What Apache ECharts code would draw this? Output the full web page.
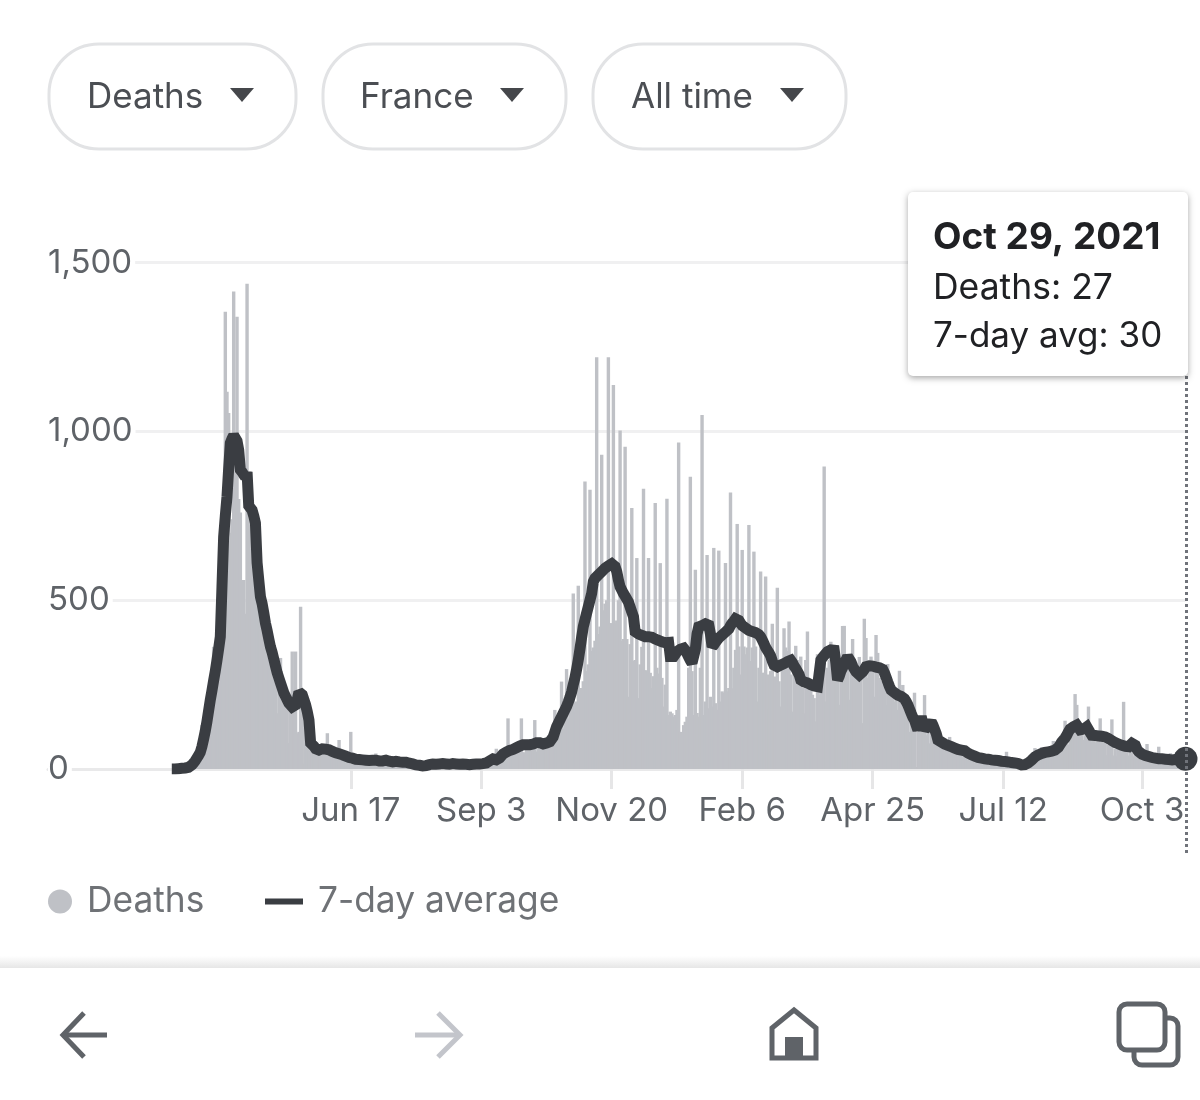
<!DOCTYPE html>
<html>
<head>
<meta charset="utf-8">
<title>Deaths, France, all time</title>
<script src="https://cdn.jsdelivr.net/npm/echarts@6/dist/echarts.min.js"></script>
<style>
  html, body { margin: 0; padding: 0; background: #fff; }
  #chart { width: 1200px; height: 1100px; }
</style>
</head>
<body>
<div id="chart"></div>
<script>
// Daily reported deaths, from 2020-03-02 to 2021-10-29.
const deaths = [
  0,0,1,0,2,0,1,0,2,3,
  4,3,5,9,7,14,12,18,130,40,
  78,112,140,180,230,362,250,290,330,385,
  470,560,1355,1118,1055,700,740,1415,880,1340,
  800,760,470,560,460,1438,880,760,760,720,
  700,640,580,530,470,440,420,400,380,350,
  330,310,290,165,240,329,240,220,205,190,
  77,180,348,170,348,106,110,481,190,15,
  150,130,120,110,80,70,62,55,50,58,
  55,52,50,106,60,45,50,45,44,40,
  86,38,36,42,34,30,36,110,28,26,
  30,26,25,24,40,22,24,26,20,22,
  24,28,46,22,20,18,22,30,24,20,
  18,22,18,26,30,22,18,20,16,14,
  20,18,12,10,12,8,10,6,8,7,
  8,9,8,14,10,16,8,12,26,8,
  10,14,30,10,12,16,12,8,18,12,
  12,10,24,10,16,12,20,10,8,14,
  12,14,18,12,16,22,14,16,30,26,
  18,26,22,30,60,24,32,28,48,30,
  36,150,40,42,35,52,48,72,60,150,
  50,48,60,75,68,64,58,145,52,60,
  66,70,62,60,66,72,85,98,105,175,
  110,120,130,259,120,145,296,150,170,185,
  520,170,200,543,225,240,260,852,290,310,
  827,350,360,380,1220,400,422,931,470,490,
  500,1220,432,432,1138,432,440,500,1003,380,
  385,955,385,214,370,773,320,323,625,210,
  310,362,830,293,290,625,285,240,275,788,
  300,283,610,270,185,250,801,160,170,165,
  155,160,175,967,110,0,130,140,155,300,
  866,290,160,590,166,155,300,1049,160,200,
  634,180,214,185,655,195,175,647,200,230,
  225,610,230,240,819,239,300,353,726,363,
  280,649,363,340,360,723,320,360,644,363,
  200,300,585,285,285,570,280,180,290,430,
  240,274,537,260,185,300,417,360,350,437,
  280,170,290,365,323,249,333,240,165,323,
  407,230,234,220,210,141,340,220,230,300,
  896,200,300,323,377,350,264,264,280,190,
  290,424,424,290,300,205,330,385,323,270,
  280,332,290,136,445,388,270,290,333,300,
  214,397,344,270,260,250,240,190,311,220,
  210,215,200,205,175,291,200,249,180,170,
  170,110,160,140,226,6,110,120,130,110,
  219,100,110,76,120,90,100,110,70,80,
  75,70,65,55,70,95,60,50,48,60,
  70,50,45,55,60,40,42,35,32,40,
  35,30,28,26,32,24,28,22,26,24,
  28,20,22,26,18,22,16,18,20,51,
  18,14,20,16,14,18,12,10,14,12,
  18,16,22,24,26,30,62,35,30,42,
  65,38,42,36,40,48,50,83,44,53,
  55,58,60,62,143,75,72,90,100,110,
  222,190,100,95,110,86,100,90,185,120,
  81,85,78,82,80,150,80,78,76,41,
  72,70,147,40,60,38,60,62,55,199,
  60,50,40,55,48,38,52,45,30,44,
  40,36,38,74,30,28,34,32,26,30,
  66,28,24,30,26,22,28,47,20,24,
  26,22,24,20,28,24,27
];

// Seven-day rolling average over the same days.
const sevenDayAvg = [
  0,0,0,1,1,1,2,2,3,4,
  5,8,12,18,24,32,40,49,66,88,
  112,140,172,204,232,262,290,322,356,392,
  540,688,750,807,890,966,978,988,985,972,
  945,886,880,872,865,880,780,775,767,750,
  729,611,560,510,490,462,432,410,385,362,
  345,325,305,285,270,255,240,225,215,205,
  195,190,184,180,190,205,228,225,220,205,
  190,170,145,77,72,67,60,56,56,58,
  60,58,59,59,57,55,52,50,48,47,
  45,44,42,40,38,36,34,33,32,30,
  29,28,28,27,27,26,26,25,25,24,
  26,27,26,25,24,23,24,25,26,24,
  23,22,21,22,23,22,21,20,20,21,
  20,19,17,16,15,13,12,12,11,10,
  9,9,10,12,13,14,15,14,14,15,
  15,16,16,15,15,14,14,15,16,15,
  15,14,14,15,15,14,14,13,13,14,
  14,14,15,15,15,16,16,17,18,20,
  24,28,30,28,27,29,33,38,44,48,
  50,52,55,56,58,60,63,66,68,70,
  72,73,72,71,72,73,74,76,78,80,
  78,76,74,75,77,79,81,85,95,110,
  125,135,145,155,165,175,185,198,212,228,
  250,270,295,323,355,390,422,442,462,481,
  500,520,555,565,570,575,580,585,590,595,
  598,602,605,608,604,600,585,560,540,530,
  520,512,507,495,480,465,451,407,403,400,
  398,396,394,392,393,392,392,390,388,385,
  383,381,379,377,375,374,373,375,333,330,
  333,340,348,352,355,358,358,352,342,332,
  322,314,314,355,400,421,424,425,428,430,
  427,426,400,362,368,375,382,388,393,397,
  402,406,410,415,425,432,438,445,447,440,
  432,425,421,418,414,411,409,407,405,404,
  403,398,392,382,372,360,352,344,335,320,
  308,305,303,306,308,310,312,315,318,322,
  322,315,305,298,293,280,264,260,258,256,
  255,254,250,248,246,245,244,243,323,330,
  335,342,348,352,353,354,352,314,264,275,
  290,300,312,322,333,330,318,305,296,288,
  283,279,282,288,295,303,305,306,305,305,
  304,302,301,300,299,295,285,272,258,245,
  234,230,226,222,219,216,215,214,208,200,
  190,178,165,153,145,130,116,135,155,135,
  116,122,128,134,140,130,118,105,86,82,
  80,76,74,72,70,68,66,64,62,60,
  58,57,56,55,54,50,47,44,42,40,
  38,36,34,33,32,31,30,29,29,28,
  27,27,26,26,25,24,23,22,22,21,
  21,20,19,18,18,17,16,14,12,12,
  13,15,18,22,26,31,36,40,42,44,
  46,47,49,50,51,52,53,55,56,58,
  64,72,80,86,92,100,110,118,122,125,
  128,130,126,116,116,118,122,125,120,108,
  100,100,99,99,98,98,97,96,95,92,
  90,87,84,81,78,76,74,72,70,68,
  67,66,66,70,76,81,70,58,52,47,
  44,42,40,38,37,35,34,33,32,31,
  30,30,30,29,29,28,28,27,27,28,
  28,29,29,30,30,30,30
];

const firstDay = '2020-03-02';
const leadingBlankDays = 74;         // empty days that leave room for the y labels
const tickDates = ['2020-06-17', '2020-09-03', '2020-11-20', '2021-02-06', '2021-04-25', '2021-07-12', '2021-10-03'];
const tickLabels = ['Jun 17', 'Sep 3', 'Nov 20', 'Feb 6', 'Apr 25', 'Jul 12', 'Oct 3'];
const yTicks = [0, 500, 1000, 1500];
const filterLabels = ['Deaths', 'France', 'All time'];
const tipTitle = 'Oct 29, 2021';

const FONT = 'Inter';
const DAY_MS = 86400000;
const start = Date.parse(firstDay + 'T00:00:00Z');
const isoDay = n => new Date(start + n * DAY_MS).toISOString().slice(0, 10);

const categories = [];
for (let i = -leadingBlankDays; i < deaths.length; i++) categories.push(isoDay(i));
const pad = new Array(leadingBlankDays).fill(null);
const tickByDate = {};
tickDates.forEach((d, i) => { tickByDate[d] = tickLabels[i]; });

const BAR = '#bfc1c6';
const LINE = '#3a3d42';
const ICON = '#5f6368';

const lastDate = categories[categories.length - 1];
const lastDeaths = deaths[deaths.length - 1];
const lastAvg = sevenDayAvg[sevenDayAvg.length - 1];

const chart = echarts.init(document.getElementById('chart'), null, { renderer: 'canvas' });

// Rounded filter buttons above the plot, with their drop-down carets.
const pillBoxes = [[49, 247, 87, 230], [323, 243, 360, 500], [593, 253, 631, 780]];
const chrome = [];
pillBoxes.forEach((b, i) => {
  chrome.push({ type: 'rect', z: 50, shape: { x: b[0], y: 44, width: b[1], height: 105, r: 50 },
    style: { fill: '#fff', stroke: '#e2e3e5', lineWidth: 3 } });
  chrome.push({ type: 'text', z: 51, x: b[2], y: 97,
    style: { text: filterLabels[i], font: '35px ' + FONT, fill: '#4b4e53', textVerticalAlign: 'middle' } });
  chrome.push({ type: 'polygon', z: 51, shape: { points: [[b[3], 88], [b[3] + 24, 88], [b[3] + 12, 102]] },
    style: { fill: '#45474b' } });
});

// Tooltip card for the last day.
chrome.push({ type: 'rect', z: 90, shape: { x: 908, y: 192, width: 280, height: 184, r: 5 },
  style: { fill: '#fff', shadowBlur: 6, shadowOffsetY: 2, shadowColor: 'rgba(0,0,0,0.35)' } });
[[tipTitle, 238, 'bold 37px '], ['Deaths: ' + lastDeaths, 288, '35.5px '], ['7-day avg: ' + lastAvg, 336, '35px ']]
  .forEach(t => chrome.push({ type: 'text', z: 91, x: 933, y: t[1],
    style: { text: t[0], font: t[2] + FONT, fill: '#202124', textVerticalAlign: 'middle' } }));

// Bottom navigation bar: shadow edge, back, forward, home and tabs icons.
chrome.push({ type: 'rect', z: 50, shape: { x: 0, y: 956, width: 1200, height: 12 },
  style: { fill: new echarts.graphic.LinearGradient(0, 0, 0, 1, [{ offset: 0, color: '#ffffff' }, { offset: 1, color: '#e6e6e6' }]) } });
const stroke = (color, w) => ({ fill: 'none', stroke: color, lineWidth: w });
chrome.push({ type: 'polyline', z: 51, shape: { points: [[107, 1035], [63, 1035]] }, style: stroke(ICON, 5) });
chrome.push({ type: 'polyline', z: 51, shape: { points: [[84, 1013], [63, 1035], [84, 1057]] }, style: stroke(ICON, 5) });
chrome.push({ type: 'polyline', z: 51, shape: { points: [[415, 1035], [460, 1035]] }, style: stroke('#c3c5cb', 5) });
chrome.push({ type: 'polyline', z: 51, shape: { points: [[438, 1013], [460, 1035], [438, 1057]] }, style: stroke('#c3c5cb', 5) });
chrome.push({ type: 'polygon', z: 51, shape: { points: [[794, 1010], [816, 1028], [816, 1058], [772, 1058], [772, 1028]] }, style: stroke(ICON, 5) });
chrome.push({ type: 'rect', z: 51, shape: { x: 785, y: 1037, width: 18, height: 23 }, style: { fill: ICON } });
chrome.push({ type: 'rect', z: 51, shape: { x: 1134, y: 1018, width: 44, height: 47, r: 8 }, style: stroke(ICON, 5) });
chrome.push({ type: 'rect', z: 52, shape: { x: 1119, y: 1004, width: 46, height: 46, r: 8 },
  style: { fill: '#fff', stroke: ICON, lineWidth: 5 } });

chart.setOption({
  animation: false,
  backgroundColor: '#fff',
  textStyle: { fontFamily: FONT },
  grid: { left: 48, right: 14.5, top: 262.7, bottom: 331, containLabel: false },
  legend: [
    { data: ['Deaths'], left: 48, top: 884, selectedMode: false, icon: 'circle',
      itemWidth: 24, itemHeight: 24, padding: 0,
      textStyle: { fontFamily: FONT, fontSize: 35.3, color: '#6f7276', padding: [2, 0, 0, 10] } },
    { data: ['7-day average'], left: 265, top: 884, selectedMode: false, icon: 'rect',
      itemWidth: 38, itemHeight: 6, padding: 0,
      textStyle: { fontFamily: FONT, fontSize: 35.3, color: '#6f7276', padding: [2, 0, 0, 10] } }
  ],
  xAxis: {
    type: 'category',
    data: categories,
    boundaryGap: false,
    axisLine: { show: true, lineStyle: { color: '#e9e9ea', width: 3 } },
    axisTick: {
      show: true, length: 20, lineStyle: { color: '#e6e6e7', width: 3 },
      interval: (i, v) => v in tickByDate
    },
    axisLabel: {
      show: true, margin: 26, fontSize: 33, color: '#5f6368', fontFamily: FONT,
      interval: (i, v) => v in tickByDate,
      formatter: v => tickByDate[v] || ''
    },
    splitLine: { show: false }
  },
  yAxis: {
    type: 'value',
    min: yTicks[0],
    max: yTicks[yTicks.length - 1],
    interval: yTicks[1] - yTicks[0],
    axisLine: { show: false },
    axisTick: { show: false },
    splitLine: { lineStyle: { color: '#f0f0f1', width: 3 } },
    axisLabel: {
      inside: true, margin: 0, fontSize: 33, color: '#5f6368', fontFamily: FONT,
      backgroundColor: '#fff', padding: [9, 3, 0, 0],
      formatter: v => v.toLocaleString('en-US')
    }
  },
  series: [
    {
      name: 'Deaths', type: 'bar',
      data: pad.concat(deaths),
      barWidth: 3.4,
      itemStyle: { color: BAR },
      large: false
    },
    {
      name: '7-day average', type: 'line',
      data: pad.concat(sevenDayAvg),
      showSymbol: false, smooth: false,
      itemStyle: { color: LINE },
      lineStyle: { color: LINE, width: 11, join: 'miter', miterLimit: 1.6, cap: 'butt' },
      z: 5,
      markPoint: {
        symbol: 'circle', symbolSize: 24, silent: true,
        itemStyle: { color: LINE }, label: { show: false },
        data: [{ coord: [lastDate, lastAvg] }]
      }
    }
  ],
  graphic: { elements: chrome }
});

// Dotted day cursor dropped through the last day, from the tooltip down past the axis.
const cursorX = chart.convertToPixel({ seriesIndex: 0 }, [lastDate, lastAvg])[0] + 1;
chart.setOption({
  graphic: {
    elements: chrome.concat([{
      type: 'line', z: 40,
      shape: { x1: cursorX, y1: 376, x2: cursorX, y2: 853 },
      style: { stroke: '#70737a', lineWidth: 3, lineDash: [3, 3] }
    }])
  }
});
</script>
</body>
</html>
